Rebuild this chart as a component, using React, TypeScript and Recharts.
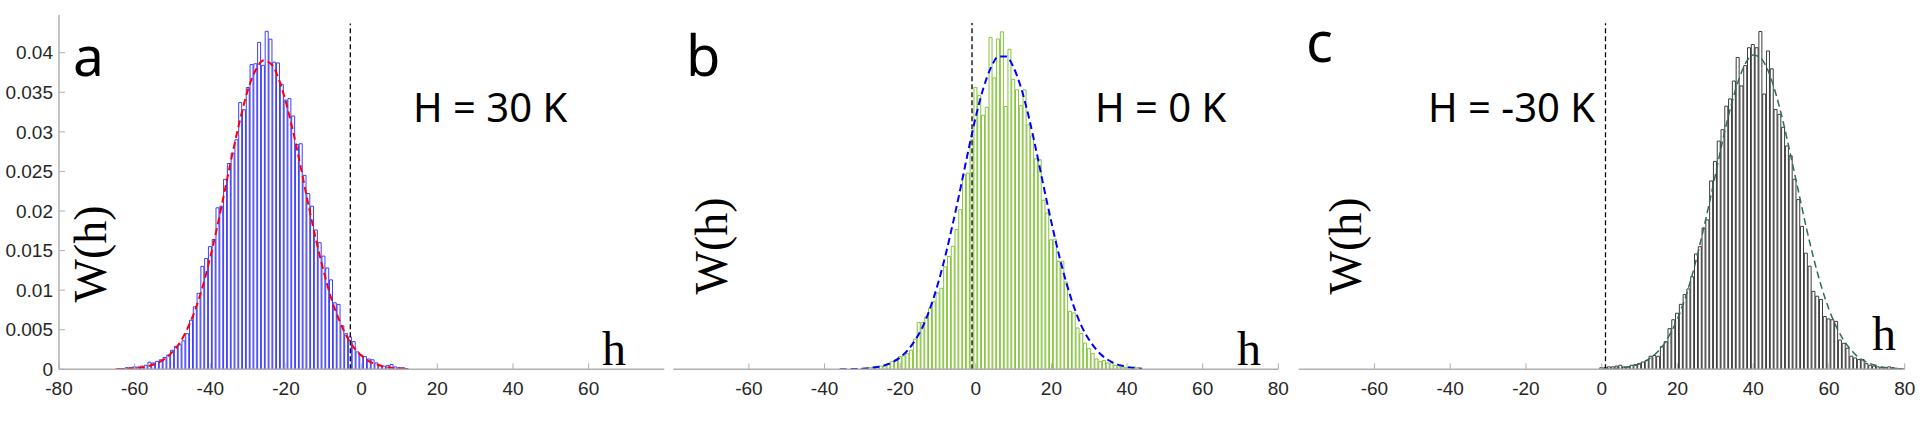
import React from 'react';
import { ComposedChart, Bar, Line, XAxis, YAxis, ReferenceLine } from 'recharts';

// ---------- Panel a (H = 30 K) ----------
const binsA = [
  -64, -63, -62, -61, -60, -59, -58, -57, -56, -55,
  -54, -53, -52, -51, -50, -49, -48, -47, -46, -45,
  -44, -43, -42, -41, -40, -39, -38, -37, -36, -35,
  -34, -33, -32, -31, -30, -29, -28, -27, -26, -25,
  -24, -23, -22, -21, -20, -19, -18, -17, -16, -15,
  -14, -13, -12, -11, -10, -9, -8, -7, -6, -5,
  -4, -3, -2, -1, 0, 1, 2, 3, 4, 5,
  6, 7, 8, 9, 10, 11, 12,
];
const valsA = [
  0.0001, 0.0001, 0.0002, 0.0002, 0.0003, 0.0003, 0.0004, 0.0005, 0.0009, 0.0008,
  0.0010, 0.0012, 0.0015, 0.0018, 0.0024, 0.0029, 0.0031, 0.0036, 0.0045, 0.0062,
  0.0079, 0.0096, 0.0130, 0.0140, 0.0155, 0.0164, 0.0204, 0.0206, 0.0240, 0.0260,
  0.0273, 0.0290, 0.0337, 0.0328, 0.0356, 0.0385, 0.0386, 0.0413, 0.0384, 0.0427,
  0.0417, 0.0388, 0.0387, 0.0360, 0.0340, 0.0342, 0.0320, 0.0284, 0.0285, 0.0245,
  0.0222, 0.0206, 0.0176, 0.0160, 0.0143, 0.0128, 0.0113, 0.0084, 0.0082, 0.0055,
  0.0045, 0.0041, 0.0035, 0.0022, 0.0018, 0.0016, 0.0013, 0.0012, 0.0008, 0.0005,
  0.0004, 0.0005, 0.0006, 0.0003, 0.0002, 0.0002, 0.0001,
];
const fitXA = [
  -65, -62, -60, -58, -56, -54, -52, -50, -48, -46, -44, -42, -40, -38, -36, -34, -32, -30, -28, -26,
  -24, -22, -20, -18, -16, -14, -12, -10, -8, -6, -4, -2, 0, 2, 4, 6, 8, 10, 12,
];
const fitYA = [
  0.00002, 0.000065, 0.00013, 0.00024, 0.00045, 0.00079, 0.00134, 0.0022, 0.0034, 0.0052,
  0.0075, 0.0105, 0.0142, 0.0184, 0.0230, 0.0276, 0.0318, 0.0354, 0.0378, 0.0390,
  0.0386, 0.0368, 0.0337, 0.0298, 0.0253, 0.0206, 0.0162, 0.0123, 0.0089, 0.0063,
  0.0042, 0.0027, 0.0017, 0.0010, 0.0006, 0.00033, 0.00018, 0.00009, 0.00005,
];

// ---------- Panel b (H = 0 K) ----------
const binsB = [
  -30, -29, -28, -27, -26, -25, -24, -23, -22, -21,
  -20, -19, -18, -17, -16, -15, -14, -13, -12, -11,
  -10, -9, -8, -7, -6, -5, -4, -3, -2, -1,
  0, 1, 2, 3, 4, 5, 6, 7, 8, 9,
  10, 11, 12, 13, 14, 15, 16, 17, 18, 19,
  20, 21, 22, 23, 24, 25, 26, 27, 28, 29,
  30, 31, 32, 33, 34, 35, 36, 37, 38, 39,
  40, 41, 42, 43,
];
const valsB = [
  0.0001, 0.0001, 0.0002, 0.0003, 0.0003, 0.0004, 0.0004, 0.0007, 0.0010, 0.0012,
  0.0016, 0.0017, 0.0020, 0.0024, 0.0038, 0.0059, 0.0059, 0.0066, 0.0077, 0.0085,
  0.0096, 0.0102, 0.0129, 0.0142, 0.0155, 0.0176, 0.0201, 0.0245, 0.0247, 0.0289,
  0.0355, 0.0345, 0.0320, 0.0330, 0.0418, 0.0367, 0.0416, 0.0425, 0.0331, 0.0403,
  0.0365, 0.0352, 0.0332, 0.0352, 0.0308, 0.0294, 0.0265, 0.0264, 0.0213, 0.0197,
  0.0163, 0.0164, 0.0136, 0.0136, 0.0110, 0.0073, 0.0071, 0.0052, 0.0045, 0.0033,
  0.0026, 0.0020, 0.0013, 0.0010, 0.0011, 0.0008, 0.0008, 0.0005, 0.0003, 0.0003,
  0.0002, 0.0003, 0.0003, 0.0002,
];
const fitXB = [
  -36, -34, -32, -30, -28, -26, -24, -22, -20, -18, -16, -14, -12, -10, -8, -6, -4, -2, 0, 2,
  4, 6, 8, 10, 12, 14, 16, 18, 20, 22, 24, 26, 28, 30, 32, 34, 36, 38, 40, 42, 44,
];
const fitYB = [
  0.00001, 0.00002, 0.00004, 0.00008, 0.00016, 0.00029, 0.00052, 0.0009, 0.0015, 0.0024,
  0.0037, 0.0054, 0.0078, 0.0108, 0.0144, 0.0185, 0.0229, 0.0275, 0.0318, 0.0354,
  0.0380, 0.0394, 0.0394, 0.0380, 0.0354, 0.0318, 0.0275, 0.0229, 0.0185, 0.0144,
  0.0108, 0.0078, 0.0054, 0.0037, 0.0024, 0.0015, 0.0009, 0.00052, 0.00029, 0.00016, 0.00008,
];

// ---------- Panel c (H = -30 K) ----------
const binsC = [
  0, 1, 2, 3, 4, 5, 6, 7, 8, 9,
  10, 11, 12, 13, 14, 15, 16, 17, 18, 19,
  20, 21, 22, 23, 24, 25, 26, 27, 28, 29,
  30, 31, 32, 33, 34, 35, 36, 37, 38, 39,
  40, 41, 42, 43, 44, 45, 46, 47, 48, 49,
  50, 51, 52, 53, 54, 55, 56, 57, 58, 59,
  60, 61, 62, 63, 64, 65, 66, 67, 68, 69,
  70, 71, 72, 73, 74, 75, 76, 77, 78, 79,
];
const valsC = [
  0.0002, 0.0002, 0.0003, 0.0003, 0.0004, 0.0005, 0.0003, 0.0003, 0.0005, 0.0006,
  0.0007, 0.0009, 0.0011, 0.0016, 0.0017, 0.0016, 0.0028, 0.0034, 0.0050, 0.0061,
  0.0069, 0.0080, 0.0092, 0.0099, 0.0114, 0.0142, 0.0151, 0.0174, 0.0184, 0.0232,
  0.0256, 0.0281, 0.0295, 0.0324, 0.0333, 0.0355, 0.0384, 0.0349, 0.0374, 0.0396,
  0.0400, 0.0396, 0.0416, 0.0339, 0.0392, 0.0370, 0.0320, 0.0314, 0.0298, 0.0275,
  0.0263, 0.0234, 0.0209, 0.0176, 0.0143, 0.0127, 0.0096, 0.0090, 0.0086, 0.0065,
  0.0062, 0.0061, 0.0059, 0.0036, 0.0032, 0.0026, 0.0016, 0.0014, 0.0012, 0.0012,
  0.0007, 0.0005, 0.0004, 0.0003, 0.0002, 0.0002, 0.0003, 0.0002, 0.0001, 0.0001,
];
const fitXC = [
  0, 2, 4, 6, 8, 10, 12, 14, 16, 18, 20, 22, 24, 26, 28, 30, 32, 34, 36, 38,
  40, 42, 44, 46, 48, 50, 52, 54, 56, 58, 60, 62, 64, 66, 68, 70, 72, 74, 76, 78, 80,
];
const fitYC = [
  0.00003, 0.00006, 0.00012, 0.00022, 0.00039, 0.00068, 0.00113, 0.00183, 0.0028, 0.0043,
  0.0062, 0.0087, 0.0118, 0.0155, 0.0196, 0.0239, 0.0283, 0.0322, 0.0354, 0.0377,
  0.0387, 0.0383, 0.0367, 0.0339, 0.0303, 0.0261, 0.0218, 0.0175, 0.0136, 0.0102,
  0.0074, 0.0052, 0.0035, 0.0023, 0.0014, 0.00088, 0.00052, 0.00029, 0.00016, 0.00009, 0.00004,
];

// ---------- Axis ticks & labels ----------
const xTicksA = [-80, -60, -40, -20, 0, 20, 40, 60];
const xTicksBC = [-60, -40, -20, 0, 20, 40, 60, 80];
const xTickMarks = [-60, -40, -20, 0, 20, 40, 60];
const yTicks = [0, 0.005, 0.01, 0.015, 0.02, 0.025, 0.03, 0.035, 0.04];

const BOX = '#b0b0b0';
const TICK_FONT = { fill: '#262626', fontSize: 19, fontFamily: '"Liberation Sans", Arial, sans-serif' };

type PanelProps = {
  left: number;
  right: number;
  yMax: number;
  bins: number[];
  vals: number[];
  fitX: number[];
  fitY: number[];
  barColor: string;
  fitColor: string;
  fitWidth: number;
  refX: number;
  refTop: number;
  xTicks: number[];
  showYLabels: boolean;
};

const TOP = 15;
const BOTTOM = 369.3;
const XAXIS_H = 30;

function Panel(p: PanelProps) {
  const data = p.bins.map((h, i) => ({ h, w: p.vals[i] }));
  const fit = p.fitX.map((h, i) => ({ h, f: p.fitY[i] }));
  const yW = p.showYLabels ? p.left : 0;
  return (
    <div style={{ position: 'absolute', left: 0, top: 0 }}>
      <ComposedChart
        width={1922}
        height={432}
        data={data}
        margin={{ top: TOP, right: 1922 - p.right, bottom: 432 - BOTTOM - XAXIS_H, left: p.left - yW }}
      >
        <XAxis
          xAxisId="b"
          dataKey="h"
          type="number"
          domain={[-80, 80]}
          ticks={p.xTicks}
          interval={0}
          allowDataOverflow
          height={XAXIS_H}
          tickSize={-6}
          tickMargin={18}
          axisLine={{ stroke: BOX, strokeWidth: 1.5 }}
          tickLine={{ stroke: BOX, strokeWidth: 1 }}
          tick={TICK_FONT}
        />
        <XAxis
          xAxisId="t"
          orientation="top"
          type="number"
          domain={[-80, 80]}
          ticks={xTickMarks}
          interval={0}
          allowDataOverflow
          height={0}
          tickSize={-6}
          axisLine={{ stroke: BOX, strokeWidth: 1.5 }}
          tickLine={{ stroke: BOX, strokeWidth: 1 }}
          tick={false}
        />
        <YAxis
          yAxisId="l"
          type="number"
          domain={[0, p.yMax]}
          ticks={yTicks}
          interval={0}
          allowDataOverflow
          width={yW}
          tickSize={-6}
          tickMargin={12}
          axisLine={{ stroke: BOX, strokeWidth: 1.5 }}
          tickLine={{ stroke: BOX, strokeWidth: 1 }}
          tick={p.showYLabels ? TICK_FONT : false}
        />
        <YAxis
          yAxisId="r"
          orientation="right"
          type="number"
          domain={[0, p.yMax]}
          ticks={yTicks}
          interval={0}
          allowDataOverflow
          width={0}
          tickSize={-6}
          axisLine={{ stroke: BOX, strokeWidth: 1.5 }}
          tickLine={{ stroke: BOX, strokeWidth: 1 }}
          tick={false}
        />
        <Bar
          xAxisId="b"
          yAxisId="l"
          dataKey="w"
          barSize={3}
          fill="#ffffff"
          stroke={p.barColor}
          strokeWidth={1}
          isAnimationActive={false}
        />
        <ReferenceLine
          xAxisId="b"
          yAxisId="l"
          segment={[{ x: p.refX, y: 0 }, { x: p.refX, y: p.refTop }]}
          stroke="#000000"
          strokeWidth={1.3}
          strokeDasharray="5 3"
        />
        <Line
          xAxisId="b"
          yAxisId="l"
          data={fit}
          dataKey="f"
          type="monotone"
          stroke={p.fitColor}
          strokeWidth={p.fitWidth}
          strokeDasharray="7 4"
          dot={false}
          activeDot={false}
          isAnimationActive={false}
        />
      </ComposedChart>
    </div>
  );
}

const SANS = '"Noto Sans", "Open Sans", sans-serif';
const SERIF = '"Liberation Serif", "DejaVu Serif", serif';

export default function App() {
  return (
    <div style={{ position: 'absolute', left: 0, top: 0, width: 1922, height: 432, background: '#ffffff' }}>
      <Panel
        left={59}
        right={664.3}
        yMax={0.04476}
        bins={binsA}
        vals={valsA}
        fitX={fitXA}
        fitY={fitYA}
        barColor="#3d3dff"
        fitColor="#ff0000"
        fitWidth={2}
        refX={-3}
        refTop={0.0437}
        xTicks={xTicksA}
        showYLabels
      />
      <Panel
        left={673.3}
        right={1278.3}
        yMax={0.04462}
        bins={binsB}
        vals={valsB}
        fitX={fitXB}
        fitY={fitYB}
        barColor="#86c43c"
        fitColor="#0000ff"
        fitWidth={2}
        refX={-1}
        refTop={0.0436}
        xTicks={xTicksBC}
        showYLabels={false}
      />
      <Panel
        left={1298.7}
        right={1904.7}
        yMax={0.04363}
        bins={binsC}
        vals={valsC}
        fitX={fitXC}
        fitY={fitYC}
        barColor="#3a3a3a"
        fitColor="#2f6e4e"
        fitWidth={1.5}
        refX={1}
        refTop={0.0426}
        xTicks={xTicksBC}
        showYLabels={false}
      />
      <svg
        width={1922}
        height={432}
        style={{ position: 'absolute', left: 0, top: 0, pointerEvents: 'none' }}
      >
        <text x={73} y={76} fontSize={55} fontFamily={SANS} fill="#000">a</text>
        <text x={686} y={76} fontSize={56} fontFamily={SANS} fill="#000">b</text>
        <text x={1306} y={62} fontSize={56} fontFamily={SANS} fill="#000">c</text>

        <text x={413} y={122} fontSize={40} fontFamily={SANS} fill="#000">H = 30 K</text>
        <text x={1095} y={122} fontSize={40} fontFamily={SANS} fill="#000">H = 0 K</text>
        <text x={1428} y={122} fontSize={40} fontFamily={SANS} fill="#000">H = -30 K</text>

        <text x={106} y={254} fontSize={46} fontFamily={SERIF} fill="#000" textAnchor="middle" transform="rotate(-90 106 254)">W(h)</text>
        <text x={727} y={246} fontSize={46} fontFamily={SERIF} fill="#000" textAnchor="middle" transform="rotate(-90 727 246)">W(h)</text>
        <text x={1361} y={246} fontSize={46} fontFamily={SERIF} fill="#000" textAnchor="middle" transform="rotate(-90 1361 246)">W(h)</text>

        <text x={602} y={365} fontSize={48} fontFamily={SERIF} fill="#000">h</text>
        <text x={1237} y={365} fontSize={48} fontFamily={SERIF} fill="#000">h</text>
        <text x={1872} y={350} fontSize={48} fontFamily={SERIF} fill="#000">h</text>
      </svg>
    </div>
  );
}
